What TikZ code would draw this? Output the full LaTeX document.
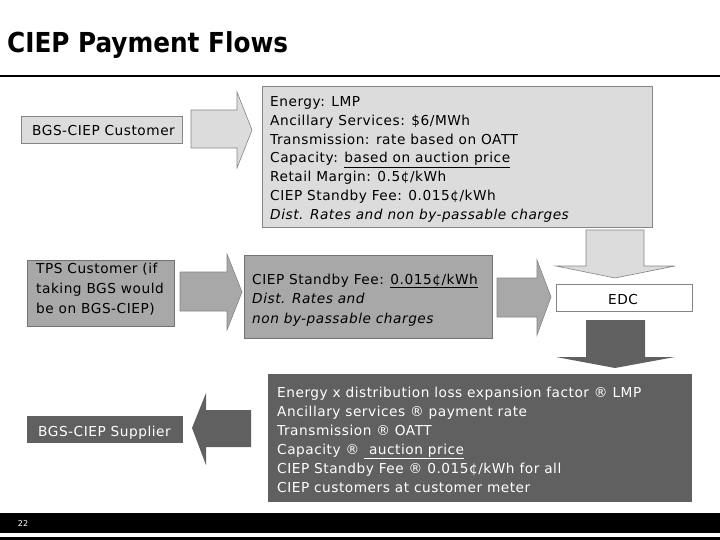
\documentclass[tikz,border=0pt]{standalone}
\usepackage{fontspec}
\setmainfont[LetterSpace=3.8]{DejaVu Sans}
\newfontfamily\titlefont{DejaVu Sans Condensed}
\definecolor{lg}{HTML}{DCDCDC}
\definecolor{mg}{HTML}{A8A8A8}
\definecolor{dg}{HTML}{606060}
\definecolor{bd}{HTML}{858585}
\begin{document}
\begin{tikzpicture}[x=1pt,y=-1pt,
  box/.style={draw=bd, line width=0.8pt, rectangle, inner sep=0pt, outer sep=0pt, anchor=north west},
  txt/.style={font=\fontsize{13.7}{19}\selectfont, align=left, anchor=base west, inner sep=0pt},
  wtxt/.style={txt, text=white},
  larrow/.style={fill=lg, draw=bd, line width=0.6pt},
  marrow/.style={fill=mg, draw=bd, line width=0.6pt},
  darrow/.style={fill=dg, draw=none}]
\useasboundingbox (0,0) rectangle (720,540);
% title
\node[anchor=base west, inner sep=0pt, font=\titlefont\fontsize{27.5}{30}\selectfont\bfseries] (title) at (7,53) {CIEP Payment Flows};
\draw[line width=1.3pt] (0,76) -- (720,76);
% boxes (text anchors are at the baseline of the last line)
\node[box, fill=lg, minimum width=161, minimum height=27] (b1) at (21,116) {};
\node[txt] (t1) at (32,136) {BGS-CIEP Customer};
\node[box, fill=lg, minimum width=390, minimum height=141] (b2) at (262,86) {};
\node[txt] (t2) at (270,220) {Energy: LMP\\
Ancillary Services: \$6/MWh\\
Transmission: rate based on OATT\\
Capacity: \underline{based on auction price}\\
Retail Margin: 0.5¢/kWh\\
CIEP Standby Fee: 0.015¢/kWh\\
\itshape Dist. Rates and non by-passable charges};
\node[box, fill=mg, draw=gray!90!black, minimum width=147, minimum height=66] (b3) at (27,260) {};
\node[txt, font=\fontsize{13.7}{20}\selectfont] (t3) at (36,313) {TPS Customer (if\\taking BGS would\\be on BGS-CIEP)};
\node[box, fill=mg, draw=gray!90!black, minimum width=248, minimum height=83] (b4) at (244,255) {};
\node[txt, font=\fontsize{13.7}{19.5}\selectfont] (t4) at (252,323) {CIEP Standby Fee: \underline{0.015¢/kWh}\\
\itshape Dist. Rates and\\
\itshape non by-passable charges};
\node[box, fill=white, minimum width=136, minimum height=27] (edc) at (556,284) {};
\node[font=\fontsize{13.7}{19}\selectfont, anchor=base, inner sep=0pt] (tedc) at (623,304) {EDC};
\node[box, fill=dg, draw=none, minimum width=424, minimum height=128] (b5) at (268,374) {};
\node[wtxt] (t5) at (277,492) {Energy x distribution loss expansion factor ® LMP\\
Ancillary services ® payment rate\\
Transmission ® OATT\\
Capacity ® \underline{ auction price}\\
CIEP Standby Fee ® 0.015¢/kWh for all\\
CIEP customers at customer meter};
\node[box, fill=dg, draw=none, minimum width=156, minimum height=27] (b6) at (27,416) {};
\node[wtxt] (t6) at (38,436) {BGS-CIEP Supplier};
% block arrows
\draw[larrow] (191,110) -- (237,110) -- (237,92) -- (252,130) -- (237,168) -- (237,148) -- (191,148) -- cycle;
\draw[marrow] (180,272) -- (227,272) -- (227,254) -- (242,292) -- (227,330) -- (227,311) -- (180,311) -- cycle;
\draw[marrow] (497,278) -- (537,278) -- (537,260) -- (551,297) -- (537,335) -- (537,317) -- (497,317) -- cycle;
\draw[larrow] (586,230) -- (644,230) -- (644,266) -- (675,266) -- (615,278) -- (556,266) -- (586,266) -- cycle;
\draw[darrow] (586,320) -- (645,320) -- (645,357) -- (675,357) -- (615,368) -- (556,357) -- (586,357) -- cycle;
\draw[darrow] (251,410) -- (206,410) -- (206,393) -- (192,428) -- (206,465) -- (206,447) -- (251,447) -- cycle;
% footer
\fill[black] (0,513) rectangle (720,533);
\fill[black] (0,537) rectangle (720,540);
\node[text=white, font=\fontsize{8}{9}\selectfont, inner sep=0pt] (pg) at (23,524) {22};
\end{tikzpicture}
\end{document}
